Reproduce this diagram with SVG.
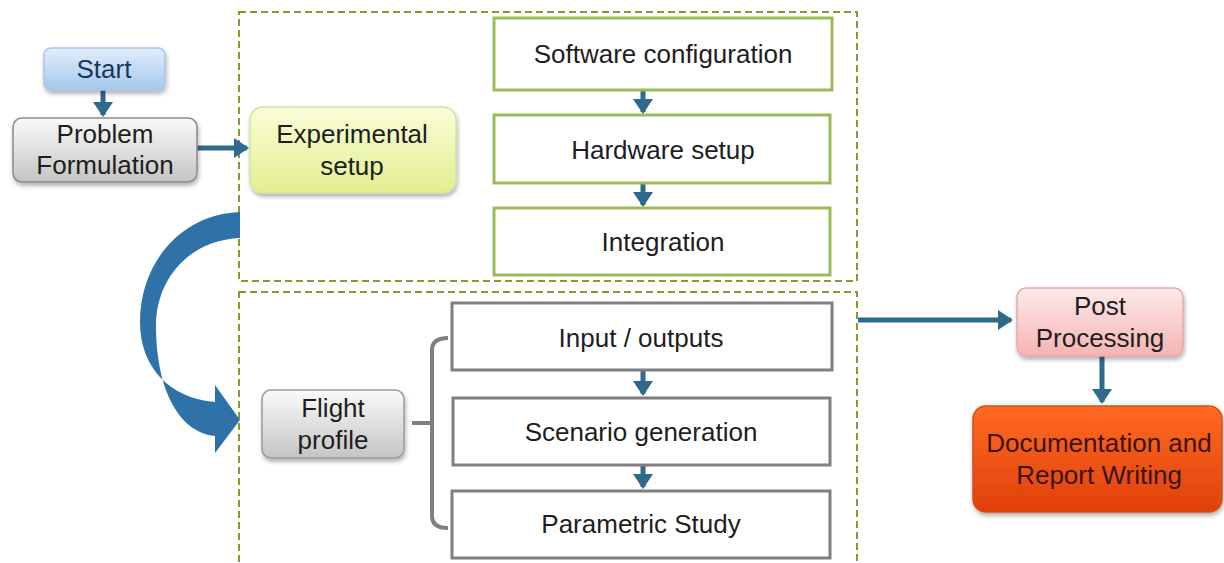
<svg xmlns="http://www.w3.org/2000/svg" width="1224" height="563" viewBox="0 0 1224 563">
<defs>
<linearGradient id="gBlue" x1="0" y1="0" x2="0" y2="1"><stop offset="0" stop-color="#E3EEFA"/><stop offset="1" stop-color="#A3C8EE"/></linearGradient>
<linearGradient id="gGray" x1="0" y1="0" x2="0" y2="1"><stop offset="0" stop-color="#FAFAFA"/><stop offset="1" stop-color="#C4C4C4"/></linearGradient>
<linearGradient id="gYel" x1="0" y1="0" x2="0" y2="1"><stop offset="0" stop-color="#FAFDD8"/><stop offset="1" stop-color="#E2EF8E"/></linearGradient>
<linearGradient id="gPink" x1="0" y1="0" x2="0" y2="1"><stop offset="0" stop-color="#FDEAEA"/><stop offset="1" stop-color="#F5B3B3"/></linearGradient>
<linearGradient id="gOr" x1="0" y1="0" x2="0" y2="1"><stop offset="0" stop-color="#FF6A22"/><stop offset="1" stop-color="#E0400C"/></linearGradient>
<filter id="sh" x="-10%" y="-10%" width="130%" height="140%"><feDropShadow dx="1" dy="3" stdDeviation="2" flood-color="#000" flood-opacity="0.3"/></filter>
<marker id="ah" markerWidth="4" markerHeight="4" refX="2.6" refY="2" orient="auto" markerUnits="strokeWidth"><path d="M0,0 L3,2 L0,4 Z" fill="#2F6A8C"/></marker>
<style>
.t{font-family:"Liberation Sans",Arial,sans-serif;font-size:26px;fill:#1E1E1E;text-anchor:middle}
.cont{fill:none;stroke:#8E962C;stroke-width:2;stroke-dasharray:7 4}
.gb{fill:#FFFFFF;stroke:#9BBB59;stroke-width:3}
.yb{fill:#FFFFFF;stroke:#7F7F7F;stroke-width:3}
.con{fill:none;stroke:#2F6A8C;stroke-width:5;marker-end:url(#ah)}
</style>
</defs>
<rect width="1224" height="563" fill="#FFFFFF"/>
<g id="containers">
<rect class="cont" x="239" y="12" width="618" height="269"/>
<rect class="cont" x="239" y="292" width="618" height="276"/>
</g>
<g id="connectors">
<path class="con" d="M103 90 L103 115"/>
<path class="con" d="M197 148 L247 148"/>
<path class="con" d="M643 90 L643 112"/>
<path class="con" d="M643 183 L643 205"/>
<path class="con" d="M643 370 L643 394"/>
<path class="con" d="M643 465 L643 487"/>
<path class="con" d="M858 320 L1011 320"/>
<path class="con" d="M1102 356 L1102 402"/>
<path d="M240 212 C182 214 140 262 140 322 C140 366 168 398 215 402 L215 385 L240 420 L215 453 L215 436 C176 432 156 384 156 326 C156 278 190 240 240 238 Z" fill="#2E72A8"/>
<path d="M448 338 Q432 338 432 350 L432 516 Q432 528 448 528 M412 423 L432 423" fill="none" stroke="#7F7F7F" stroke-width="4"/>
</g>
<g id="start"><rect x="44" y="48" width="121" height="42" rx="7" fill="url(#gBlue)" stroke="#A9C6E8" stroke-width="1.5" filter="url(#sh)"/><text class="t" x="104" y="78" style="fill:#17375E">Start</text></g>
<g id="problem"><rect x="13" y="118" width="184" height="64" rx="9" fill="url(#gGray)" stroke="#8A8A8A" stroke-width="1.5" filter="url(#sh)"/><text class="t" x="105" y="143">Problem</text><text class="t" x="105" y="174">Formulation</text></g>
<g id="experimental"><rect x="250" y="107" width="206" height="86" rx="13" fill="url(#gYel)" stroke="#D6E2A2" stroke-width="1.5" filter="url(#sh)"/><text class="t" x="352" y="143">Experimental</text><text class="t" x="352" y="175">setup</text></g>
<g id="software"><rect class="gb" x="494" y="18" width="338" height="72"/><text class="t" x="663" y="63">Software configuration</text></g>
<g id="hardware"><rect class="gb" x="494" y="115" width="336" height="68"/><text class="t" x="663" y="159">Hardware setup</text></g>
<g id="integration"><rect class="gb" x="494" y="208" width="336" height="67"/><text class="t" x="663" y="251">Integration</text></g>
<g id="flight"><rect x="262" y="390" width="142" height="68" rx="9" fill="url(#gGray)" stroke="#9A9A9A" stroke-width="1.5" filter="url(#sh)"/><text class="t" x="333" y="417">Flight</text><text class="t" x="333" y="449">profile</text></g>
<g id="inputs"><rect class="yb" x="452" y="303" width="380" height="67"/><text class="t" x="641" y="347">Input / outputs</text></g>
<g id="scenario"><rect class="yb" x="453" y="398" width="377" height="67"/><text class="t" x="641" y="441">Scenario generation</text></g>
<g id="parametric"><rect class="yb" x="452" y="491" width="378" height="67"/><text class="t" x="641" y="533">Parametric Study</text></g>
<g id="post"><rect x="1017" y="288" width="166" height="68" rx="9" fill="url(#gPink)" stroke="#E8A8A8" stroke-width="1.5" filter="url(#sh)"/><text class="t" x="1100" y="315">Post</text><text class="t" x="1100" y="347">Processing</text></g>
<g id="documentation"><rect x="973" y="406" width="249" height="106" rx="13" fill="url(#gOr)" stroke="#E04A10" stroke-width="1.5" filter="url(#sh)"/><text class="t" x="1099" y="452" style="fill:#3A1408">Documentation and</text><text class="t" x="1099" y="484" style="fill:#3A1408">Report Writing</text></g>
</svg>
